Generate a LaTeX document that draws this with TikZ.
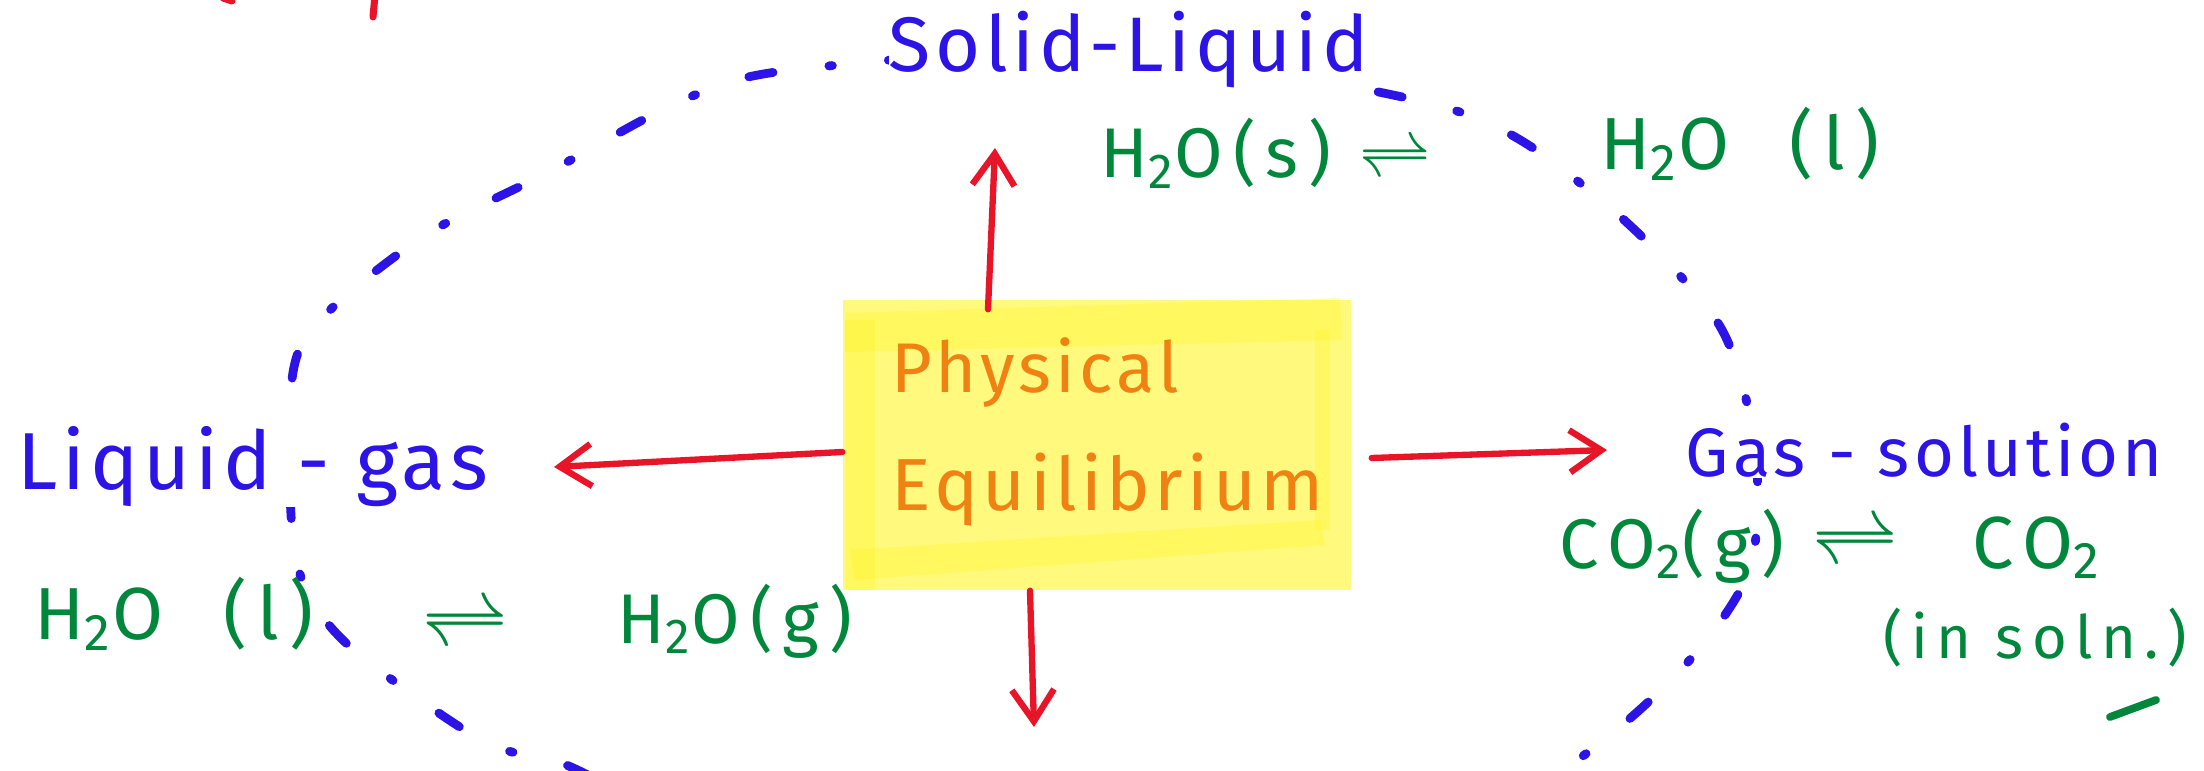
\documentclass[tikz,border=0pt]{standalone}
\usepackage{fontspec}
\newfontfamily\handfont[LetterSpace=6]{Fira Sans}
\newfontfamily\chemfont[LetterSpace=14]{Fira Sans}
\usepackage{xcolor}
\definecolor{penblue}{RGB}{45,20,230}
\definecolor{pengreen}{RGB}{0,135,60}
\definecolor{penred}{RGB}{232,20,40}
\definecolor{penorange}{RGB}{240,130,20}
\definecolor{hlyellow}{RGB}{255,250,125}
\definecolor{hlband}{RGB}{255,245,40}
\usepackage{tikz}
\usetikzlibrary{arrows.meta}

\begin{document}
\begin{tikzpicture}[
  title/.style={font=\handfont\fontsize{#1}{#1}\selectfont, penblue, fill=white, inner sep=0pt, anchor=base west},
  chem/.style={font=\chemfont\fontsize{#1}{#1}\selectfont, pengreen, inner sep=0pt, anchor=base west},
  eqsign/.style={font=\fontsize{#1}{#1}\selectfont, pengreen, inner sep=0pt},
  boxtext/.style={font=\handfont\fontsize{#1}{#1}\selectfont, penorange, inner sep=0pt, anchor=base west},
  redarrow/.style={-{Straight Barb[length=9pt,width=12pt]}, line width=1.8pt, penred, line cap=round},
  ringdash/.style={line width=2.5pt, penblue, line cap=round, dash pattern=on 7pt off 16pt on 1pt off 16pt}
]
  \useasboundingbox (0,0) rectangle (22.04,-7.71);

  % Dashed ring round the centre
  \begin{scope}
    \clip (0,0) rectangle (22.04,-7.71);
    \draw[ringdash] plot[smooth cycle] coordinates {
      (7.92,-0.70) (11.00,-0.52) (14.47,-1.08) (15.95,-1.95) (17.18,-3.23)
      (17.55,-4.50) (17.50,-5.68) (16.88,-6.62) (15.87,-7.53) (14.30,-8.50)
      (10.50,-8.90) (6.80,-8.10) (5.61,-7.63) (4.81,-7.40) (3.46,-6.43)
      (2.98,-5.68) (2.90,-4.50) (3.04,-3.40) (4.18,-2.40) (5.47,-1.73) (6.83,-1.00)};
  \end{scope}

  % --- Centre: highlighted box ---
  \node (phys) [fill=hlyellow, minimum width=5.08cm, minimum height=2.90cm, inner sep=0pt] at (10.97,-4.45) {};
  \fill[hlband, opacity=0.35] (8.45,-3.13) -- (13.40,-2.98) -- (13.42,-3.40) -- (8.45,-3.52) -- cycle;
  \fill[hlband, opacity=0.35] (8.50,-5.50) -- (13.20,-5.20) -- (13.25,-5.45) -- (8.55,-5.80) -- cycle;
  \fill[hlband, opacity=0.35] (8.45,-3.20) rectangle (8.75,-5.90);
  \fill[hlband, opacity=0.30] (13.15,-3.30) rectangle (13.30,-5.30);
  \node (physical) [boxtext=20] at (8.91,-3.93) {Physical};
  \node (equil) [boxtext=21] at (8.91,-5.10) {Equilibrium};

  % --- Four kinds ---
  \node (sl) [title=22] at (8.88,-0.72) {Solid-Liquid};
  \node (slleft) [chem=20] at (11.00,-1.78) {H\textsubscript{2}O(s) $\rightleftharpoons$};
  \node (slright) [chem=21] at (16.00,-1.70) {H\textsubscript{2}O \ (l)};

  \node (lg) [title=23] at (0.17,-4.90) {Liquid - gas};
  \node (lgleft) [chem=21] at (0.34,-6.40) {H\textsubscript{2}O \ (l)};
  \node (lgeq) [eqsign=32] at (4.65,-6.27) {$\rightleftharpoons$};
  \node (lgright) [chem=20] at (6.17,-6.43) {H\textsubscript{2}O(g)};

  \node (gs) [title=19.5] at (16.85,-4.77) {Gas - solution};
  \node (gsleft) [chem=20] at (15.59,-5.68) {CO\textsubscript{2}(g)};
  \node (gseq) [eqsign=30] at (18.55,-5.45) {$\rightleftharpoons$};
  \node (gsright) [chem=21] at (19.72,-5.68) {CO\textsubscript{2}};
  \node (gsnote) [chem=17] at (18.83,-6.58) {(in soln.)};
  \draw[pengreen, line width=2.2pt, line cap=round] (21.10,-7.17) -- (21.56,-7.00);

  % --- Arrows out of the box ---
  \coordinate (uptip) at (9.95,-1.48);
  \coordinate (lgtip) at (5.54,-4.67);
  \coordinate (gstip) at (16.07,-4.50);
  \coordinate (downtip) at (10.34,-7.27);
  \draw[redarrow] ([xshift=-1.09cm, yshift=-0.10cm]phys.north) -- (uptip);
  \draw[redarrow] ([yshift=-0.07cm]phys.west) -- (lgtip);
  \draw[redarrow] ([xshift=0.20cm, yshift=-0.13cm]phys.east) -- (gstip);
  \draw[redarrow] ([xshift=-0.67cm]phys.south) -- (downtip);

  % cut-off strokes at the top edge
  \draw[penred, line width=2pt, line cap=round] (3.75,0.05) -- (3.73,-0.17);
  \draw[penred, line width=2pt, line cap=round] (2.23,0.02) -- (2.32,-0.01);
\end{tikzpicture}
\end{document}
